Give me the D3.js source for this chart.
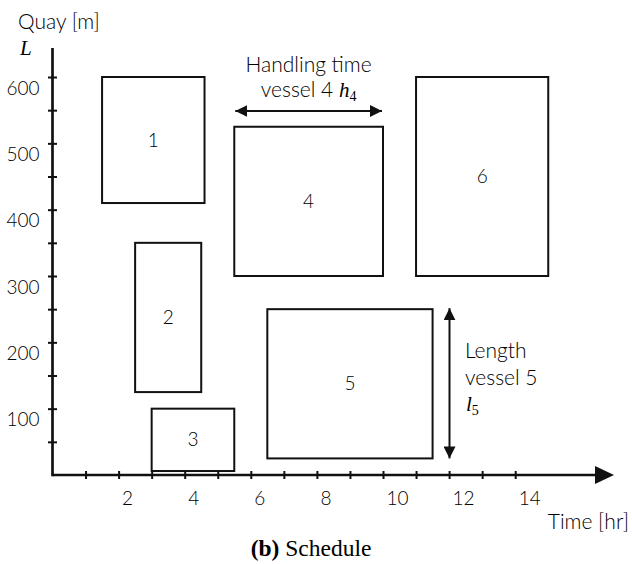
<!DOCTYPE html>
<html><head><meta charset="utf-8">
<script src="https://cdn.jsdelivr.net/npm/d3@7"></script>
<style>
body{margin:0;background:#fff;}
svg text{font-family:Lato,"Open Sans",sans-serif;font-weight:300;fill:#000;}
svg text.math{font-weight:400;}
svg tspan.w{font-weight:300;}
</style></head>
<body><svg id="c" width="632" height="564"></svg>
<script>
// Data
const vessels = [1, 2, 3, 4, 5, 6];
const startHr = [1.5, 2.5, 3.0, 5.5, 6.5, 11.0];
const endHr   = [4.6, 4.5, 5.5, 10.0, 11.5, 15.0];
const lowM    = [410, 125, 6, 300, 25, 300];
const highM   = [600, 350, 100, 525, 250, 600];
const xTicks = [1,2,3,4,5,6,7,8,9,10,11,12,13,14];
const yTicks = [50,100,150,200,250,300,350,400,450,500,550,600];

const svg = d3.select("#c");
const x = d3.scaleLinear().domain([0, 15]).range([52.5, 52.5 + 15 * 33.05]);
const y = d3.scaleLinear().domain([0, 600]).range([475, 77]);
const ink = "#111";
const numFont = 19, wordFont = 21;

// axis lines
svg.append("line").attr("x1", x(0)).attr("x2", 600).attr("y1", y(0)).attr("y2", y(0))
  .attr("stroke", ink).attr("stroke-width", 2.7);
svg.append("path").attr("d", `M595,${y(0)-9}L614,${y(0)}L595,${y(0)+9}Z`).attr("fill", ink);
svg.append("line").attr("x1", x(0)).attr("x2", x(0)).attr("y1", 48).attr("y2", y(0)+1.3)
  .attr("stroke", ink).attr("stroke-width", 2.7);

// x axis ticks
const gx = svg.append("g").attr("transform", `translate(0,${y(0)})`)
  .call(d3.axisBottom(x).tickValues(xTicks).tickSize(4).tickFormat(d => d % 2 === 0 ? d : ""));
gx.select(".domain").remove();
gx.selectAll(".tick line").attr("y1", -4).attr("y2", 4).attr("stroke", ink).attr("stroke-width", 2);
gx.selectAll(".tick text").attr("y", 30).attr("dy", 0).attr("x", 3).attr("text-anchor", "start")
  .attr("font-size", numFont).style("font-family", "Lato").style("font-weight", 300).attr("fill", "#000");

// y axis ticks
const gy = svg.append("g").attr("transform", `translate(${x(0)},0)`)
  .call(d3.axisLeft(y).tickValues(yTicks).tickSize(4).tickFormat(d => d % 100 === 0 ? d : ""));
gy.select(".domain").remove();
gy.selectAll(".tick line").attr("x1", -4.5).attr("x2", 4.5).attr("stroke", ink).attr("stroke-width", 2);
gy.selectAll(".tick text").attr("x", -13).attr("y", 17).attr("dy", 0).attr("text-anchor", "end")
  .attr("font-size", numFont).style("font-family", "Lato").style("font-weight", 300).attr("fill", "#000");

// rectangles
const rects = svg.append("g");
vessels.forEach((v, i) => {
  rects.append("rect")
    .attr("x", x(startHr[i])).attr("y", y(highM[i]))
    .attr("width", x(endHr[i]) - x(startHr[i])).attr("height", y(lowM[i]) - y(highM[i]))
    .attr("fill", "none").attr("stroke", ink).attr("stroke-width", 2);
  rects.append("text")
    .attr("x", (x(startHr[i]) + x(endHr[i])) / 2).attr("y", (y(lowM[i]) + y(highM[i])) / 2)
    .attr("dy", "0.35em").attr("text-anchor", "middle").attr("font-size", numFont).text(v);
});

// arrow markers
const defs = svg.append("defs");
defs.append("marker").attr("id", "ah").attr("viewBox", "0 0 10 10").attr("refX", 10).attr("refY", 5)
  .attr("orient", "auto-start-reverse").attr("markerUnits", "userSpaceOnUse")
  .attr("markerWidth", 12).attr("markerHeight", 12)
  .append("path").attr("d", "M0,0L10,5L0,10Z").attr("fill", ink);

// handling time arrow for vessel 4
const hy = 111;
svg.append("line").attr("x1", x(startHr[3]) + 1).attr("x2", x(endHr[3]) - 1).attr("y1", hy).attr("y2", hy)
  .attr("stroke", ink).attr("stroke-width", 2)
  .attr("marker-start", "url(#ah)").attr("marker-end", "url(#ah)");
const hx = (x(startHr[3]) + x(endHr[3])) / 2;
svg.append("text").attr("x", hx).attr("y", 72).attr("text-anchor", "middle").attr("font-size", wordFont).text("Handling time");
const t2 = svg.append("text").attr("class", "math").attr("x", hx).attr("y", 97).attr("text-anchor", "middle").attr("font-size", wordFont);
t2.append("tspan").attr("class", "w").text("vessel 4 ");
t2.append("tspan").style("font-family", "Liberation Serif").style("font-style", "italic").text("h");
t2.append("tspan").attr("dy", 4).attr("font-size", 14).style("font-family", "Liberation Serif").text("4");

// length arrow for vessel 5
const lx = 449.5;
svg.append("line").attr("x1", lx).attr("x2", lx).attr("y1", y(highM[4]) - 1).attr("y2", y(lowM[4]))
  .attr("stroke", ink).attr("stroke-width", 2)
  .attr("marker-start", "url(#ah)").attr("marker-end", "url(#ah)");
svg.append("text").attr("x", 465).attr("y", 358).attr("font-size", wordFont).text("Length");
svg.append("text").attr("x", 465).attr("y", 385).attr("font-size", wordFont).text("vessel 5");
const t3 = svg.append("text").attr("class", "math").attr("x", 466).attr("y", 411).attr("font-size", wordFont)
  .style("font-family", "Liberation Serif");
t3.append("tspan").style("font-style", "italic").text("l");
t3.append("tspan").attr("dy", 4).attr("font-size", 14).text("5");

// axis titles
svg.append("text").attr("x", 18).attr("y", 29).attr("font-size", wordFont).text("Quay [m]");
svg.append("text").attr("class", "math").attr("x", 20).attr("y", 55).attr("font-size", 21)
  .style("font-family", "Liberation Serif").style("font-style", "italic").text("L");
svg.append("text").attr("x", 629).attr("y", 529).attr("text-anchor", "end").attr("font-size", wordFont).text("Time [hr]");

// caption
const cap = svg.append("text").attr("class", "math").attr("x", 311).attr("y", 556).attr("text-anchor", "middle").attr("font-size", 23.5)
  .style("font-family", "Liberation Serif");
cap.append("tspan").style("font-weight", 700).text("(b)");
cap.append("tspan").text(" Schedule");
</script></body></html>
